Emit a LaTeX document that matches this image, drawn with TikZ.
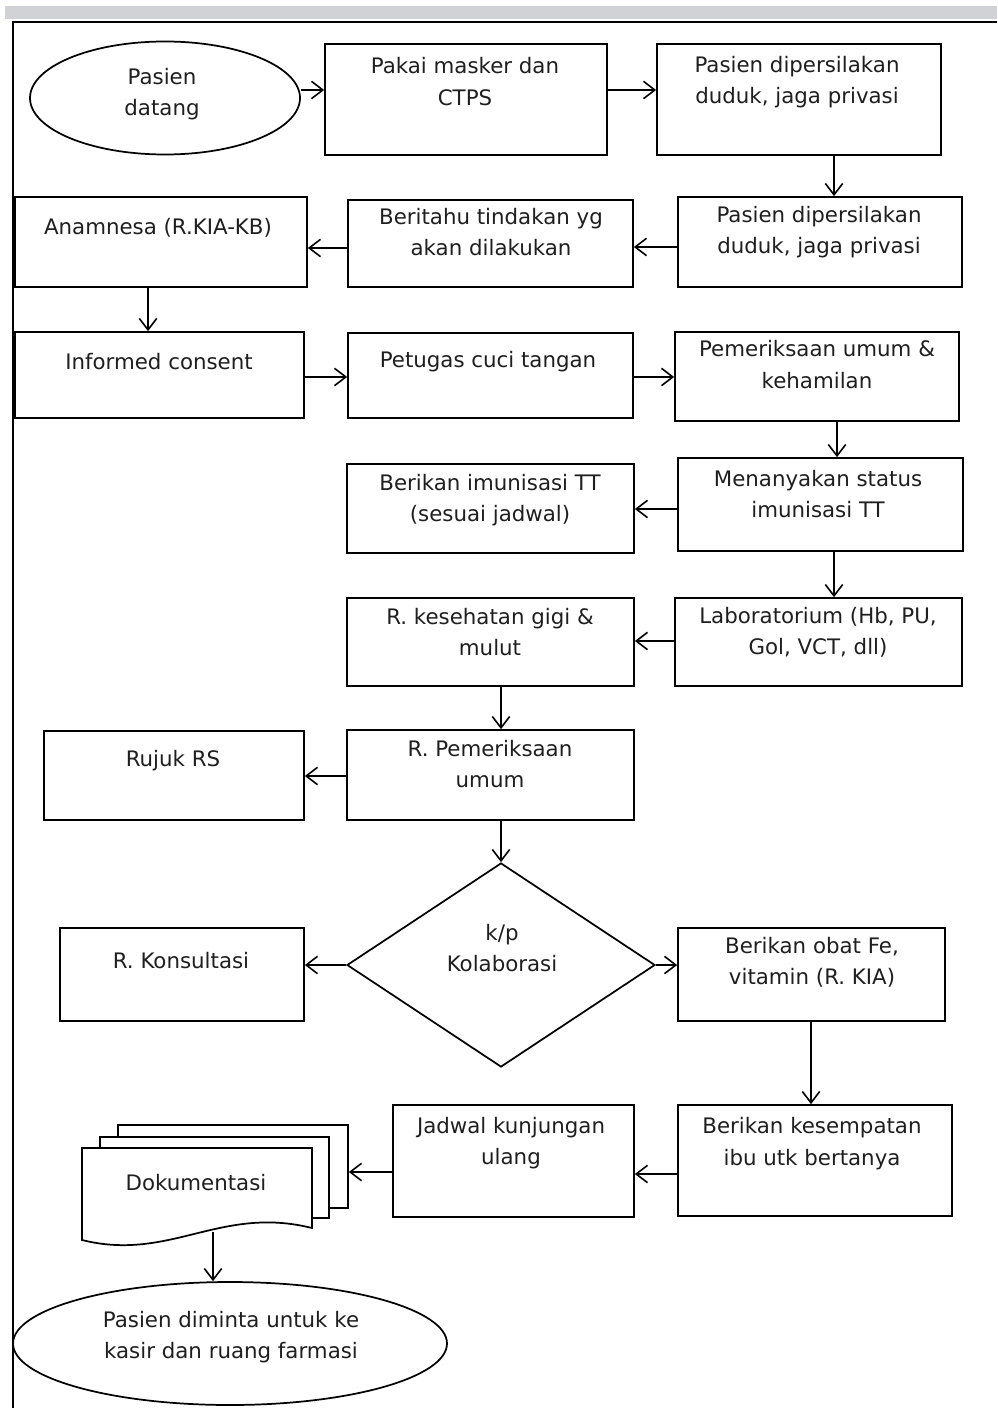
\documentclass[tikz,border=0pt]{standalone}
\usepackage{fontspec}
\setmainfont{DejaVu Sans}
\usetikzlibrary{arrows.meta,shapes.geometric,fit}
\definecolor{barGray}{HTML}{D0D2D5}
\begin{document}
\begin{tikzpicture}[x=0.75pt,y=-0.75pt,
  box/.style={draw, line width=1.3pt, inner sep=0pt, fill=white},
  txt/.style={font=\fontsize{16pt}{23.5pt}\selectfont, align=center, text=black!88, inner sep=0pt},
  arr/.style={line width=1.2pt, -{Straight Barb[length=8.5pt,width=13pt,line width=1.2pt]}},
  frame/.style={line width=1.6pt}
]
\useasboundingbox (0,0) rectangle (997,1408);
% window frame
\fill[barGray] (5,6) rectangle (997,19);
\draw[frame] (13,1408) -- (13,22) -- (997,22);

% shapes
\node[box, ellipse, minimum width=202.5pt, minimum height=84.75pt] (e1) at (165,98) {};
\node[box, fit={(325,44) (607,155)}] (b2) {};
\node[box, fit={(657,44) (941,155)}] (b3) {};
\node[box, fit={(678,197) (962,287)}] (b4) {};
\node[box, fit={(348,200) (633,287)}] (b5) {};
\node[box, fit={(15,197) (307,287)}] (b6) {};
\node[box, fit={(15,332) (304,418)}] (b7) {};
\node[box, fit={(348,333) (633,418)}] (b8) {};
\node[box, fit={(675,332) (959,421)}] (b9) {};
\node[box, fit={(678,458) (963,551)}] (b10) {};
\node[box, fit={(347,464) (634,553)}] (b11) {};
\node[box, fit={(675,598) (962,686)}] (b12) {};
\node[box, fit={(347,598) (634,686)}] (b13) {};
\node[box, fit={(347,730) (634,820)}] (b14) {};
\node[box, fit={(44,731) (304,820)}] (b15) {};
\node[box, diamond, minimum width=231pt, minimum height=153pt] (d) at (501,965) {};
\node[box, fit={(60,928) (304,1021)}] (b17) {};
\node[box, fit={(678,928) (945,1021)}] (b18) {};
\node[box, fit={(678,1105) (952,1216)}] (b19) {};
\node[box, fit={(393,1105) (634,1217)}] (b20) {};
\node[box, fit={(118,1125) (348,1208)}] (doc3) {};
\node[box, fit={(100,1137) (329,1218)}] (doc2) {};
\draw[line width=1.3pt, fill=white] (82,1148) -- (312,1148) -- (312,1228)
  .. controls (220,1205) and (170,1262) .. (82,1240) -- cycle;
\coordinate (docB) at (213,1232);
\node[box, ellipse, minimum width=325.5pt, minimum height=92.25pt] (e2) at (230,1343.5) {};

% texts
\node[txt] (t1) at (162,94) {Pasien\\datang};
\node[txt] (t2) at (465,81.5) {Pakai masker dan\\CTPS};
\node[txt] (t3) at (797,82) {Pasien dipersilakan\\duduk, jaga privasi};
\node[txt] (t4) at (819,232) {Pasien dipersilakan\\duduk, jaga privasi};
\node[txt] (t5) at (491,232) {Beritahu tindakan yg\\akan dilakukan};
\node[txt] (t6) at (158,228) {Anamnesa (R.KIA-KB)};
\node[txt] (t7) at (159,362) {Informed consent};
\node[txt] (t8) at (488,362) {Petugas cuci tangan};
\node[txt] (t9) at (817,364.5) {Pemeriksaan umum \&\\kehamilan};
\node[txt] (t10) at (818,494) {Menanyakan status\\imunisasi TT};
\node[txt] (t11) at (490,500) {Berikan imunisasi TT\\(sesuai jadwal)};
\node[txt] (t12) at (818,632) {Laboratorium (Hb, PU,\\Gol, VCT, dll)};
\node[txt] (t13) at (490,632) {R. kesehatan gigi \&\\mulut};
\node[txt] (t14) at (490,764) {R. Pemeriksaan\\umum};
\node[txt] (t15) at (173,761) {Rujuk RS};
\node[txt] (t16) at (502,948) {k/p\\Kolaborasi};
\node[txt] (t17) at (181,961) {R. Konsultasi};
\node[txt] (t18) at (812,962) {Berikan obat Fe,\\vitamin (R. KIA)};
\node[txt] (t19) at (812,1143.5) {Berikan kesempatan\\ibu utk bertanya};
\node[txt] (t20) at (511,1143) {Jadwal kunjungan\\ulang};
\node[txt] (t21) at (196,1183) {Dokumentasi};
\node[txt] (t22) at (231,1337) {Pasien diminta untuk ke\\kasir dan ruang farmasi};

% connectors
\draw[arr] (e1.east |- 0,90) -- (b2.west |- 0,90);
\draw[arr] (b2.east |- 0,90) -- (b3.west |- 0,90);
\draw[arr] (b3.south -| 834,0) -- (b4.north -| 834,0);
\draw[arr] (b4.west |- 0,247) -- (b5.east |- 0,247);
\draw[arr] (b5.west |- 0,248) -- (b6.east |- 0,248);
\draw[arr] (b6.south -| 148,0) -- (b7.north -| 148,0);
\draw[arr] (b7.east |- 0,377) -- (b8.west |- 0,377);
\draw[arr] (b8.east |- 0,377) -- (b9.west |- 0,377);
\draw[arr] (b9.south -| 837,0) -- (b10.north -| 837,0);
\draw[arr] (b10.west |- 0,509) -- (b11.east |- 0,509);
\draw[arr] (b10.south -| 834,0) -- (b12.north -| 834,0);
\draw[arr] (b12.west |- 0,641) -- (b13.east |- 0,641);
\draw[arr] (b13.south -| 501,0) -- (b14.north -| 501,0);
\draw[arr] (b14.west |- 0,776) -- (b15.east |- 0,776);
\draw[arr] (b14.south -| 501,0) -- (d.north);
\draw[arr] (d.west) -- (b17.east |- d.west);
\draw[arr] (d.east) -- (b18.west |- d.east);
\draw[arr] (b18.south -| 811,0) -- (b19.north -| 811,0);
\draw[arr] (b19.west |- 0,1174) -- (b20.east |- 0,1174);
\draw[arr] (b20.west |- 0,1172) -- (doc3.east |- 0,1172);
\draw[arr] (docB) -- (e2.north -| docB);
\end{tikzpicture}
\end{document}
